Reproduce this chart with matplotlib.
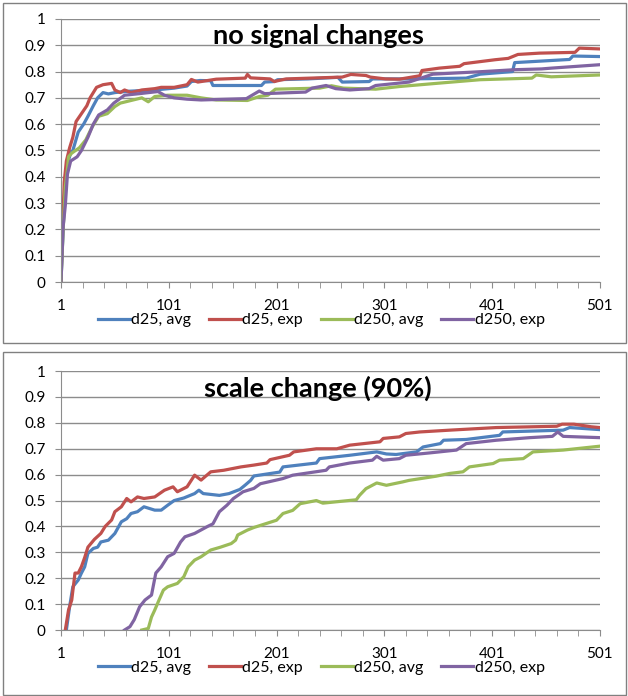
import numpy as np
import matplotlib
matplotlib.use('Agg')
import matplotlib.pyplot as plt
from matplotlib.patches import Rectangle

plt.rcParams['font.family'] = ['Lato', 'DejaVu Sans']

# 图例名称与颜色
labels = ['d25, avg', 'd25, exp', 'd250, avg', 'd250, exp']
colors = ['#4F81BD', '#C0504D', '#9BBB59', '#8064A2']

# 上图: no signal changes
top_d25_avg_x = [1, 3, 5, 7, 10, 12, 17, 22, 26, 31, 35, 40, 45, 51, 63, 88, 106, 118, 122, 130, 140, 142, 187,
                 190, 199, 202, 230, 258, 262, 287, 290, 324, 377, 390, 420, 422, 473, 476, 501]
top_d25_avg_y = [0, 0.2, 0.38, 0.45, 0.49, 0.50, 0.57, 0.60, 0.63, 0.67, 0.70, 0.72, 0.715, 0.72, 0.725, 0.73,
                 0.737, 0.745, 0.762, 0.766, 0.765, 0.747, 0.747, 0.76, 0.762, 0.769, 0.772, 0.778, 0.76, 0.762,
                 0.772, 0.772, 0.775, 0.79, 0.80, 0.834, 0.846, 0.859, 0.857]

top_d25_exp_x = [1, 2, 4, 6, 9, 12, 15, 20, 25, 28, 31, 34, 40, 48, 51, 56, 60, 66, 76, 88, 94, 106, 118, 122,
                 128, 145, 172, 174, 177, 195, 199, 202, 210, 262, 270, 284, 288, 302, 315, 334, 336, 352, 371,
                 375, 404, 416, 425, 445, 478, 482, 501]
top_d25_exp_y = [0, 0.15, 0.38, 0.46, 0.51, 0.55, 0.61, 0.64, 0.67, 0.70, 0.72, 0.74, 0.75, 0.755, 0.73, 0.72,
                 0.73, 0.72, 0.73, 0.735, 0.74, 0.74, 0.75, 0.77, 0.76, 0.771, 0.775, 0.789, 0.776, 0.772, 0.762,
                 0.765, 0.772, 0.779, 0.789, 0.785, 0.779, 0.772, 0.771, 0.784, 0.804, 0.813, 0.82, 0.83, 0.845,
                 0.85, 0.865, 0.87, 0.873, 0.889, 0.886]

top_d250_avg_x = [1, 3, 5, 7, 8, 11, 18, 24, 30, 36, 44, 51, 56, 66, 76, 82, 88, 100, 118, 131, 145, 174, 185,
                  193, 200, 241, 252, 263, 293, 315, 352, 390, 438, 442, 456, 501]
top_d250_avg_y = [0, 0.2, 0.36, 0.43, 0.476, 0.49, 0.51, 0.54, 0.59, 0.63, 0.64, 0.667, 0.68, 0.69, 0.70, 0.685,
                  0.705, 0.71, 0.71, 0.70, 0.692, 0.69, 0.705, 0.71, 0.733, 0.737, 0.746, 0.737, 0.733, 0.743,
                  0.756, 0.769, 0.775, 0.787, 0.78, 0.787]

top_d250_exp_x = [1, 3, 5, 7, 10, 16, 20, 26, 31, 36, 44, 50, 60, 76, 91, 97, 106, 118, 131, 173, 185, 190, 228,
                  234, 247, 256, 269, 287, 293, 324, 346, 393, 422, 447, 456, 501]
top_d250_exp_y = [0, 0.21, 0.29, 0.41, 0.46, 0.476, 0.50, 0.55, 0.60, 0.635, 0.654, 0.68, 0.71, 0.717, 0.724,
                  0.71, 0.70, 0.695, 0.692, 0.697, 0.726, 0.716, 0.722, 0.737, 0.747, 0.735, 0.73, 0.735, 0.747,
                  0.76, 0.79, 0.80, 0.807, 0.81, 0.813, 0.826]

# 下图: scale change (90%)
bot_d25_avg_x = [6, 9, 12, 17, 20, 23, 26, 31, 35, 38, 45, 51, 57, 62, 66, 72, 78, 88, 94, 100, 106, 115, 125,
                 129, 133, 148, 157, 167, 172, 177, 180, 204, 207, 238, 241, 269, 294, 303, 312, 331, 337, 353,
                 356, 377, 408, 411, 467, 473, 501]
bot_d25_avg_y = [0, 0.09, 0.167, 0.193, 0.22, 0.244, 0.296, 0.315, 0.32, 0.34, 0.347, 0.373, 0.418, 0.43, 0.45,
                 0.457, 0.476, 0.463, 0.463, 0.482, 0.50, 0.51, 0.527, 0.54, 0.527, 0.52, 0.527, 0.543, 0.56,
                 0.578, 0.595, 0.61, 0.63, 0.645, 0.662, 0.675, 0.688, 0.68, 0.678, 0.688, 0.707, 0.72, 0.733,
                 0.736, 0.752, 0.765, 0.772, 0.782, 0.774]

bot_d25_exp_x = [5, 8, 11, 14, 17, 20, 23, 26, 32, 38, 42, 48, 51, 57, 62, 66, 72, 78, 88, 97, 105, 109, 118,
                 125, 131, 140, 152, 168, 180, 192, 195, 213, 217, 238, 257, 269, 297, 300, 315, 321, 334, 362,
                 405, 461, 466, 477, 493, 501]
bot_d25_exp_y = [0, 0.077, 0.116, 0.22, 0.22, 0.245, 0.28, 0.32, 0.35, 0.373, 0.40, 0.425, 0.457, 0.476, 0.508,
                 0.495, 0.514, 0.508, 0.514, 0.54, 0.553, 0.534, 0.553, 0.598, 0.579, 0.611, 0.617, 0.63, 0.637,
                 0.645, 0.658, 0.675, 0.688, 0.70, 0.70, 0.714, 0.727, 0.74, 0.746, 0.759, 0.765, 0.772, 0.782,
                 0.787, 0.795, 0.795, 0.785, 0.782]

bot_d250_avg_x = [76, 82, 85, 88, 92, 96, 100, 109, 115, 119, 125, 131, 140, 149, 159, 163, 165, 174, 180, 201,
                  207, 216, 223, 238, 244, 275, 278, 284, 294, 303, 318, 324, 349, 362, 374, 380, 402, 408, 430,
                  439, 467, 501]
bot_d250_avg_y = [0, 0.006, 0.05, 0.077, 0.116, 0.154, 0.167, 0.18, 0.206, 0.244, 0.27, 0.283, 0.309, 0.32,
                  0.334, 0.347, 0.367, 0.386, 0.396, 0.424, 0.45, 0.462, 0.488, 0.50, 0.49, 0.503, 0.52, 0.546,
                  0.568, 0.559, 0.572, 0.578, 0.594, 0.605, 0.611, 0.63, 0.643, 0.656, 0.662, 0.688, 0.695, 0.71]

bot_d250_exp_x = [60, 65, 69, 74, 79, 85, 89, 94, 100, 106, 112, 116, 125, 137, 142, 148, 155, 161, 170, 180,
                  186, 207, 216, 247, 250, 269, 290, 294, 300, 315, 321, 343, 368, 377, 405, 436, 457, 462, 467,
                  501]
bot_d250_exp_y = [0, 0.013, 0.04, 0.09, 0.116, 0.135, 0.22, 0.244, 0.283, 0.296, 0.34, 0.36, 0.373, 0.40, 0.41,
                  0.457, 0.482, 0.508, 0.534, 0.547, 0.565, 0.585, 0.598, 0.617, 0.63, 0.645, 0.656, 0.671,
                  0.656, 0.662, 0.675, 0.684, 0.695, 0.72, 0.733, 0.743, 0.748, 0.765, 0.748, 0.743]

panels = [
    ('no signal changes', [(top_d25_avg_x, top_d25_avg_y), (top_d25_exp_x, top_d25_exp_y),
                           (top_d250_avg_x, top_d250_avg_y), (top_d250_exp_x, top_d250_exp_y)]),
    ('scale change (90%)', [(bot_d25_avg_x, bot_d25_avg_y), (bot_d25_exp_x, bot_d25_exp_y),
                            (bot_d250_avg_x, bot_d250_avg_y), (bot_d250_exp_x, bot_d250_exp_y)]),
]

grid_color = '#8C8C8C'

fig = plt.figure(figsize=(6.28, 6.96), dpi=100)

# 外框 (Excel 图表区边框)
fig.patches.append(Rectangle((0.005, 0.507), 0.992, 0.489, transform=fig.transFigure,
                             fill=False, edgecolor='#808080', linewidth=1))
fig.patches.append(Rectangle((0.005, 0.002), 0.992, 0.492, transform=fig.transFigure,
                             fill=False, edgecolor='#808080', linewidth=1))

axes_pos = [[0.0971, 0.5948, 0.858, 0.378], [0.0971, 0.0948, 0.858, 0.372]]

for pos, (title, series) in zip(axes_pos, panels):
    ax = fig.add_axes(pos)
    for (xs, ys), lab, col in zip(series, labels, colors):
        ax.plot(xs, ys, color=col, linewidth=2.3, label=lab, solid_joinstyle='round')

    ax.set_xlim(1, 501)
    ax.set_ylim(0, 1)
    ax.set_xticks([1, 101, 201, 301, 401, 501])
    ax.set_xticks(np.arange(1, 502, 20), minor=True)
    ax.set_yticks(np.arange(0, 1.01, 0.1))
    ax.set_yticklabels(['0'] + ['%.1f' % v for v in np.arange(0.1, 0.95, 0.1)] + ['1'])
    ax.grid(axis='y', color=grid_color, linewidth=1)
    ax.set_axisbelow(True)
    for s in ['top', 'right']:
        ax.spines[s].set_visible(False)
    for s in ['left', 'bottom']:
        ax.spines[s].set_color(grid_color)
    ax.tick_params(which='both', direction='out', color=grid_color, length=4, labelsize=11,
                   labelcolor='black')
    ax.tick_params(axis='x', which='major', pad=8)
    ax.tick_params(axis='y', pad=7)

    ax.text(0.477, 0.935, title, transform=ax.transAxes, ha='center', va='center',
            fontsize=19.5, fontweight='bold')

    ax.legend(loc='center', bbox_to_anchor=(0.483, -0.145), ncol=4, frameon=False, fontsize=11.5,
              handlelength=2.0, handletextpad=0.1, columnspacing=1.1)

plt.savefig('out.png', dpi=100)
